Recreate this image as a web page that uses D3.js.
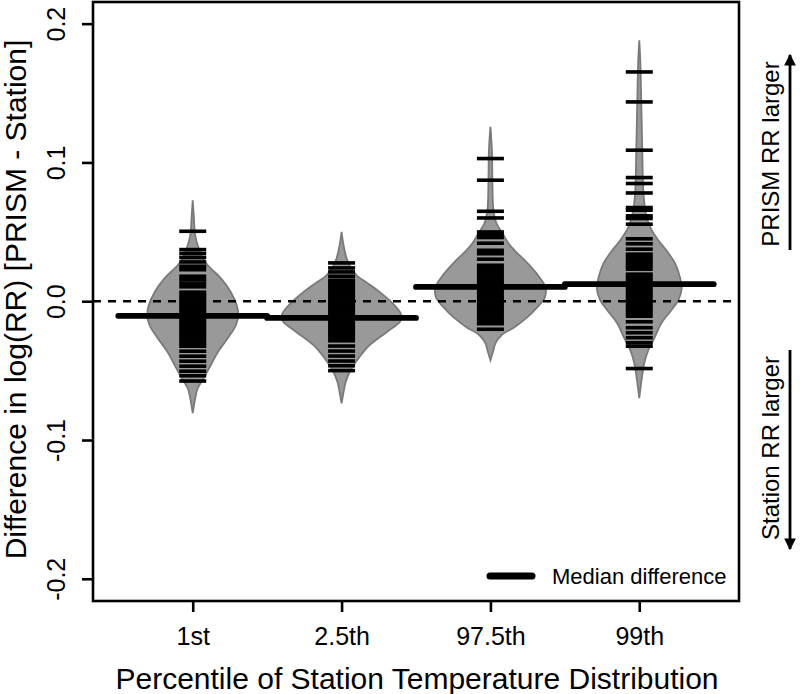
<!DOCTYPE html>
<html>
<head>
<meta charset="utf-8">
<script src="https://cdn.jsdelivr.net/npm/d3@7"></script>
<style>
  html, body { margin: 0; padding: 0; background: #fff; }
  svg { display: block; font-family: "Liberation Sans", Arial, Helvetica, sans-serif; }
</style>
</head>
<body>
<svg id="chart" width="800" height="694"></svg>
<script>
// ---------------- DATA ----------------
const categories = ["1st", "2.5th", "97.5th", "99th"];
const yTicks = [-0.2, -0.1, 0.0, 0.1, 0.2];
const yTickLabels = ["-0.2", "-0.1", "0.0", "0.1", "0.2"];

const medians = [-0.0105, -0.0120, 0.0103, 0.0123];

// bean outlines: [value, relative density]
const density1st = [
  [0.0728, 0], [0.062, 0.017], [0.0476, 0.04], [0.0403, 0.083], [0.031, 0.167],
  [0.0259, 0.25], [0.0166, 0.467], [0.0067, 0.633], [-0.0029, 0.733], [-0.0101, 0.758],
  [-0.0173, 0.72], [-0.0267, 0.583], [-0.0367, 0.417], [-0.0461, 0.30], [-0.0555, 0.183],
  [-0.0627, 0.083], [-0.0699, 0.042], [-0.0807, 0]
];
const density2_5th = [
  [0.0499, 0], [0.0403, 0.033], [0.031, 0.083], [0.0245, 0.15], [0.0187, 0.25],
  [0.013, 0.433], [0.0067, 0.633], [-0.0029, 0.883], [-0.0086, 0.983], [-0.0122, 1.0],
  [-0.0151, 0.967], [-0.0223, 0.75], [-0.0317, 0.467], [-0.0411, 0.283], [-0.0512, 0.133],
  [-0.0584, 0.067], [-0.0656, 0.033], [-0.0735, 0]
];
const density97_5th = [
  [0.1256, 0], [0.1088, 0.025], [0.0872, 0.033], [0.0656, 0.05], [0.0562, 0.10],
  [0.049, 0.20], [0.0418, 0.30], [0.0367, 0.40], [0.0274, 0.617], [0.0173, 0.817],
  [0.0101, 0.917], [0.0029, 0.908], [-0.0043, 0.783], [-0.0115, 0.617], [-0.0187, 0.40],
  [-0.0245, 0.183], [-0.0303, 0.083], [-0.0353, 0.05], [-0.0425, 0]
];
const density99th = [
  [0.188, 0], [0.1736, 0.017], [0.1448, 0.033], [0.1088, 0.05], [0.08, 0.067],
  [0.0656, 0.10], [0.0569, 0.15], [0.0512, 0.208], [0.0439, 0.317], [0.0367, 0.45],
  [0.0274, 0.595], [0.0173, 0.678], [0.0094, 0.708], [0.0007, 0.65], [-0.0065, 0.533],
  [-0.0159, 0.367], [-0.0259, 0.258], [-0.0353, 0.15], [-0.0447, 0.083], [-0.0555, 0.042],
  [-0.0699, 0]
];

// individual station differences (bean lines)
const values1st = [
  0.0504, 0.0372, 0.0344, 0.0315, 0.0283, 0.0252, 0.0227, 0.0180, 0.0155, 0.0130,
  0.0104, 0.0065, 0.0043, 0.0022, 0.0000, -0.0022, -0.0043, -0.0065, -0.0086, -0.0108,
  -0.0130, -0.0151, -0.0173, -0.0195, -0.0216, -0.0238, -0.0259, -0.0281, -0.0303, -0.0324,
  -0.0360, -0.0396, -0.0432, -0.0468, -0.0504, -0.0537, -0.0575
];
const values2_5th = [
  0.0276, 0.0240, 0.0211, 0.0180, 0.0151, 0.0130, 0.0108, 0.0086, 0.0065, 0.0043,
  0.0022, 0.0000, -0.0022, -0.0043, -0.0065, -0.0086, -0.0108, -0.0130, -0.0151, -0.0173,
  -0.0195, -0.0216, -0.0238, -0.0259, -0.0285, -0.0323, -0.0359, -0.0395, -0.0431, -0.0465,
  -0.0500
];
const values97_5th = [
  0.1028, 0.0872, 0.0648, 0.0600, 0.0499, 0.0481, 0.0459, 0.0418, 0.0367, 0.0342,
  0.0303, 0.0259, 0.0238, 0.0216, 0.0195, 0.0173, 0.0151, 0.0130, 0.0108, 0.0086,
  0.0065, 0.0043, 0.0022, 0.0000, -0.0022, -0.0043, -0.0065, -0.0086, -0.0108, -0.0130,
  -0.0151, -0.0162, -0.0202
];
const values99th = [
  0.1652, 0.1436, 0.1088, 0.0891, 0.0848, 0.0780, 0.0675, 0.0656, 0.0615, 0.0596,
  0.0555, 0.0450, 0.0414, 0.0375, 0.0339, 0.0317, 0.0295, 0.0274, 0.0252, 0.0231,
  0.0195, 0.0173, 0.0151, 0.0130, 0.0108, 0.0086, 0.0065, 0.0043, 0.0022, 0.0000,
  -0.0022, -0.0043, -0.0065, -0.0086, -0.0108, -0.0148, -0.0191, -0.0227, -0.0263, -0.0299,
  -0.0324, -0.0485
];

const densities = [density1st, density2_5th, density97_5th, density99th];
const values = [values1st, values2_5th, values97_5th, values99th];

// ---------------- LAYOUT ----------------
const svg = d3.select("#chart");
const plot = { left: 93, right: 739, top: 2, bottom: 601 };

const x = d3.scaleLinear().domain([0.33, 4.67]).range([plot.left, plot.right]);
const y = d3.scaleLinear().domain([-0.216, 0.2156]).range([plot.bottom, plot.top]);
const w = d3.scaleLinear().domain([0, 1]).range([0, 60]);   // bean half-width
const beanLineHalf = 13.5;

// beans
const area = d3.area()
  .curve(d3.curveCatmullRom.alpha(0.5))
  .y(d => y(d[0]));

densities.forEach((dens, i) => {
  const cx = x(i + 1);
  svg.append("path")
    .datum(dens)
    .attr("d", area.x0(d => cx - w(d[1])).x1(d => cx + w(d[1])))
    .attr("fill", "#999999")
    .attr("stroke", "#7a7a7a")
    .attr("stroke-width", 1.8);
});

// zero reference line
svg.append("line")
  .attr("x1", plot.left).attr("x2", plot.right)
  .attr("y1", y(0)).attr("y2", y(0))
  .attr("stroke", "#000").attr("stroke-width", 2.6)
  .attr("stroke-dasharray", "8,7");

// bean lines
values.forEach((vals, i) => {
  const cx = x(i + 1);
  svg.append("g").selectAll("line")
    .data(vals).join("line")
    .attr("x1", cx - beanLineHalf).attr("x2", cx + beanLineHalf)
    .attr("y1", d => y(d)).attr("y2", d => y(d))
    .attr("stroke", "#000").attr("stroke-width", 3.6);
});

// median lines
svg.append("g").selectAll("line")
  .data(medians).join("line")
  .attr("x1", (d, i) => x(i + 1 - 0.5)).attr("x2", (d, i) => x(i + 1 + 0.5))
  .attr("y1", d => y(d)).attr("y2", d => y(d))
  .attr("stroke", "#000").attr("stroke-width", 5.8).attr("stroke-linecap", "round");

// frame
svg.append("rect")
  .attr("x", plot.left).attr("y", plot.top)
  .attr("width", plot.right - plot.left).attr("height", plot.bottom - plot.top)
  .attr("fill", "none").attr("stroke", "#000").attr("stroke-width", 2.6);

// y axis
const yAxis = d3.axisLeft(y).tickValues(yTicks).tickSize(11).tickPadding(8)
  .tickFormat((d, i) => yTickLabels[i]);
const gy = svg.append("g").attr("transform", `translate(${plot.left},0)`).call(yAxis);
gy.select(".domain").remove();
gy.selectAll(".tick line").attr("stroke", "#000").attr("stroke-width", 2.6);
gy.selectAll(".tick text")
  .attr("font-size", 25).attr("fill", "#000")
  .attr("transform", "rotate(-90)")
  .attr("x", 0).attr("y", -37)
  .attr("dy", "0.35em")
  .attr("text-anchor", "middle")
  .attr("font-family", "Liberation Sans, Arial, sans-serif");

// x axis
const xAxis = d3.axisBottom(x).tickValues([1, 2, 3, 4]).tickSize(11).tickPadding(10)
  .tickFormat((d, i) => categories[i]);
const gx = svg.append("g").attr("transform", `translate(0,${plot.bottom})`).call(xAxis);
gx.select(".domain").remove();
gx.selectAll(".tick line").attr("stroke", "#000").attr("stroke-width", 2.6);
gx.selectAll(".tick text")
  .attr("font-size", 25).attr("fill", "#000")
  .attr("y", 35).attr("dy", "0.35em")
  .attr("font-family", "Liberation Sans, Arial, sans-serif");

// axis titles
svg.append("text")
  .attr("x", (plot.left + plot.right) / 2 + 1).attr("y", 678)
  .attr("dy", "0.35em").attr("text-anchor", "middle")
  .attr("font-size", 30).attr("fill", "#000")
  .text("Percentile of Station Temperature Distribution");

svg.append("text")
  .attr("transform", `translate(26,${(plot.top + plot.bottom) / 2 - 2}) rotate(-90)`)
  .attr("text-anchor", "middle")
  .attr("font-size", 30).attr("fill", "#000")
  .text("Difference in log(RR) [PRISM - Station]");

// legend
svg.append("line")
  .attr("x1", 490).attr("x2", 532).attr("y1", 576).attr("y2", 576)
  .attr("stroke", "#000").attr("stroke-width", 7).attr("stroke-linecap", "round");
svg.append("text")
  .attr("x", 552).attr("y", 576).attr("dy", "0.35em")
  .attr("font-size", 22).attr("fill", "#000")
  .text("Median difference");

// right-hand annotations
const defs = svg.append("defs");
defs.append("marker")
  .attr("id", "arrowhead").attr("viewBox", "0 0 10 10")
  .attr("refX", 9).attr("refY", 5)
  .attr("markerWidth", 4.6).attr("markerHeight", 4.2)
  .attr("markerUnits", "strokeWidth")
  .attr("orient", "auto")
  .append("path").attr("d", "M0,0 L10,5 L0,10 Z").attr("fill", "#000");

svg.append("text")
  .attr("transform", `translate(771,154) rotate(-90)`)
  .attr("dy", "0.35em").attr("text-anchor", "middle")
  .attr("font-size", 24).attr("fill", "#000")
  .text("PRISM RR larger");
svg.append("line")
  .attr("x1", 790).attr("x2", 790).attr("y1", 250).attr("y2", 55)
  .attr("stroke", "#000").attr("stroke-width", 2.8)
  .attr("marker-end", "url(#arrowhead)");

svg.append("text")
  .attr("transform", `translate(771,448) rotate(-90)`)
  .attr("dy", "0.35em").attr("text-anchor", "middle")
  .attr("font-size", 24).attr("fill", "#000")
  .text("Station RR larger");
svg.append("line")
  .attr("x1", 790).attr("x2", 790).attr("y1", 350).attr("y2", 549)
  .attr("stroke", "#000").attr("stroke-width", 2.8)
  .attr("marker-end", "url(#arrowhead)");
</script>
</body>
</html>
